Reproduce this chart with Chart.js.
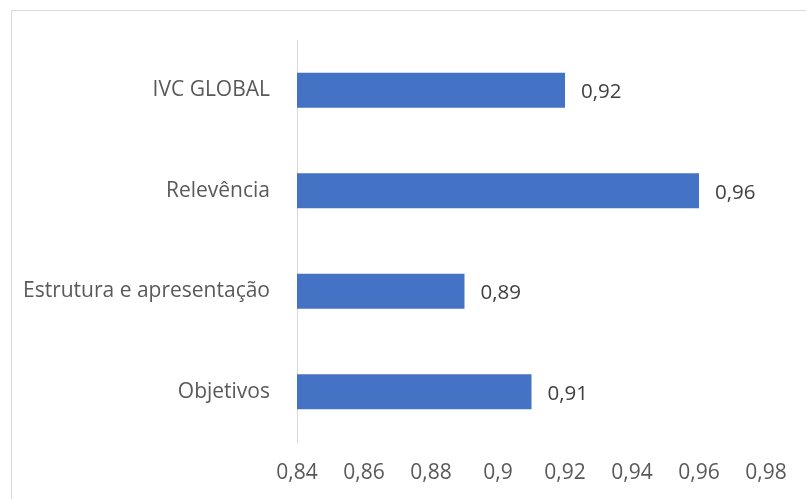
<!DOCTYPE html>
<html>
<head>
<meta charset="utf-8">
<script src="https://cdn.jsdelivr.net/npm/chart.js@4"></script>
<style>
    html, body { margin: 0; padding: 0; background: #fff; }
    #wrap { position: relative; width: 806px; height: 499px; overflow: hidden; }
    #frame { position: absolute; left: 11px; top: 10px; width: 820px; height: 520px; border: 1px solid #d9d9d9; box-sizing: border-box; }
    canvas { position: absolute; left: 0; top: 0; }
</style>
</head>
<body>
<div id="wrap">
    <div id="frame"></div>
    <canvas id="myChart" width="806" height="499"></canvas>
</div>
<script>
// categories top to bottom
const categories = ["IVC GLOBAL", "Relevência", "Estrutura e apresentação", "Objetivos"];
const values = [0.92, 0.96, 0.89, 0.91];
const axisMin = 0.84;
const axisMax = 0.98;
const axisStep = 0.02;

const FONT = "'Open Sans', sans-serif";

// turn 0.92 into "0,92"
function fmt(v) {
    return String(Math.round(v * 100) / 100).replace('.', ',');
}

// draw the value next to the end of each bar
const valueLabels = {
    id: 'valueLabels',
    afterDatasetsDraw(chart) {
        const ctx = chart.ctx;
        const meta = chart.getDatasetMeta(0);
        ctx.save();
        ctx.font = "20.5px " + FONT;
        ctx.fillStyle = '#404040';
        ctx.textAlign = 'left';
        ctx.textBaseline = 'middle';
        meta.data.forEach((bar, i) => {
            ctx.fillText(fmt(values[i]), bar.x + 16, bar.y + 2);
        });
        ctx.restore();
    }
};

function generateGraph() {
    const ctx = document.getElementById('myChart').getContext('2d');
    new Chart(ctx, {
        type: 'bar',
        data: {
            labels: categories,
            datasets: [{
                data: values,
                backgroundColor: '#4472c4',
                barPercentage: 0.7,
                categoryPercentage: 0.5
            }]
        },
        options: {
            indexAxis: 'y',
            responsive: false,
            animation: false,
            layout: { padding: { top: 40, right: 40, left: 0, bottom: 0 } },
            plugins: {
                legend: { display: false },
                tooltip: { enabled: false }
            },
            scales: {
                x: {
                    min: axisMin,
                    max: axisMax,
                    ticks: {
                        stepSize: axisStep,
                        color: '#595959',
                        font: { family: FONT, size: 21 },
                        padding: 18,
                        callback: v => fmt(v)
                    },
                    grid: { display: false, drawTicks: false },
                    border: { display: false },
                    afterFit: s => { s.height = 57; }
                },
                y: {
                    ticks: {
                        color: '#595959',
                        font: { family: FONT, size: 21 },
                        padding: 27
                    },
                    grid: { display: false, drawTicks: false },
                    border: { display: true, color: '#d9d9d9', width: 1 },
                    afterFit: s => { s.width = 297; }
                }
            }
        },
        plugins: [valueLabels]
    });
}

generateGraph();
</script>
</body>
</html>
